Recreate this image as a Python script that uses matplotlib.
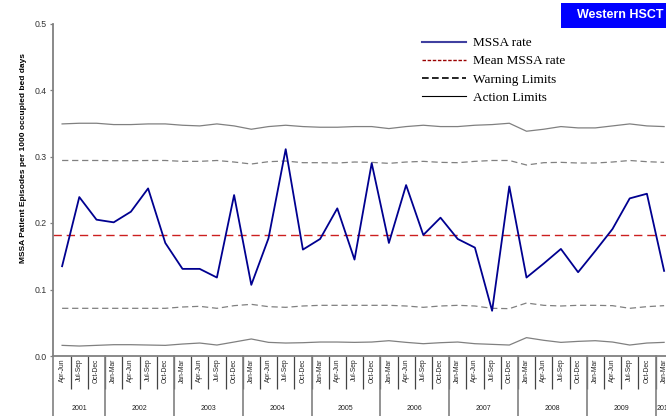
import matplotlib
matplotlib.use("Agg")
import matplotlib.pyplot as plt
from matplotlib.lines import Line2D
from matplotlib.patches import Rectangle
import matplotlib.transforms as mtransforms

years = ["2001", "2002", "2003", "2004", "2005", "2006", "2007", "2008", "2009", "2010"]
year_quarters = [
    ["Apr-Jun", "Jul-Sep", "Oct-Dec"],
    ["Jan-Mar", "Apr-Jun", "Jul-Sep", "Oct-Dec"],
    ["Jan-Mar", "Apr-Jun", "Jul-Sep", "Oct-Dec"],
    ["Jan-Mar", "Apr-Jun", "Jul-Sep", "Oct-Dec"],
    ["Jan-Mar", "Apr-Jun", "Jul-Sep", "Oct-Dec"],
    ["Jan-Mar", "Apr-Jun", "Jul-Sep", "Oct-Dec"],
    ["Jan-Mar", "Apr-Jun", "Jul-Sep", "Oct-Dec"],
    ["Jan-Mar", "Apr-Jun", "Jul-Sep", "Oct-Dec"],
    ["Jan-Mar", "Apr-Jun", "Jul-Sep", "Oct-Dec"],
    ["Jan-Mar"],
]

mssa_rate = [0.135, 0.239, 0.205, 0.201, 0.217, 0.252, 0.170, 0.131, 0.131, 0.118,
             0.242, 0.107, 0.177, 0.311, 0.160, 0.176, 0.222, 0.145, 0.290, 0.170,
             0.257, 0.182, 0.208, 0.176, 0.163, 0.068, 0.255, 0.118, 0.139, 0.161,
             0.126, 0.158, 0.191, 0.237, 0.244, 0.128]
mean_rate = 0.1825

upper_action = [0.349, 0.350, 0.350, 0.348, 0.348, 0.349, 0.349, 0.347, 0.346, 0.349,
                0.346, 0.341, 0.345, 0.347, 0.345, 0.344, 0.344, 0.345, 0.345, 0.342,
                0.345, 0.347, 0.345, 0.345, 0.347, 0.348, 0.350, 0.338, 0.341, 0.345,
                0.343, 0.343, 0.346, 0.349, 0.346, 0.345]
lower_action = [0.016, 0.015, 0.016, 0.017, 0.017, 0.0165, 0.016, 0.018, 0.0195, 0.0165,
                0.021, 0.0256, 0.0205, 0.0195, 0.020, 0.021, 0.021, 0.0205, 0.021, 0.023,
                0.0205, 0.0185, 0.020, 0.021, 0.0185, 0.0175, 0.0165, 0.0276, 0.0236, 0.0205,
                0.022, 0.023, 0.021, 0.0165, 0.0195, 0.0205]
upper_warning = [0.294, 0.294, 0.294, 0.2937, 0.2937, 0.294, 0.294, 0.2927, 0.2927, 0.294,
                 0.2917, 0.2887, 0.2922, 0.2932, 0.2907, 0.2907, 0.2902, 0.2917, 0.2912, 0.2897,
                 0.2917, 0.2927, 0.2912, 0.2907, 0.2927, 0.294, 0.294, 0.2872, 0.2907, 0.2912,
                 0.2902, 0.2902, 0.2917, 0.294, 0.2922, 0.2912]
lower_warning = [0.0717, 0.0717, 0.0717, 0.0717, 0.0717, 0.0717, 0.0717, 0.0737, 0.0747, 0.0717,
                 0.0757, 0.0777, 0.0742, 0.0732, 0.0752, 0.0762, 0.0762, 0.0762, 0.0762, 0.0762,
                 0.0752, 0.0732, 0.0752, 0.0762, 0.0752, 0.0717, 0.0712, 0.0797, 0.0762, 0.0752,
                 0.0762, 0.0762, 0.0757, 0.0717, 0.0742, 0.0757]

labels = [q for qs in year_quarters for q in qs]
n = len(labels)
x = list(range(n))

plt.rcParams['font.family'] = ['Liberation Sans', 'DejaVu Sans']

W, H = 666, 416
fig = plt.figure(figsize=(W / 100, H / 100), dpi=100)
ax = fig.add_axes([53.5 / W, 60 / H, 619.2 / W, 332.5 / H])

gray = '#808080'
ax.plot(x, upper_action, color=gray, lw=0.9)
ax.plot(x, lower_action, color=gray, lw=0.9)
ax.plot(x, upper_warning, color=gray, lw=0.9, dashes=(5, 3))
ax.plot(x, lower_warning, color=gray, lw=0.9, dashes=(5, 3))
ax.axhline(mean_rate, color='#cc1f1f', lw=1.0, dashes=(6, 3.5))
ax.plot(x, mssa_rate, color='#000090', lw=1.3)

ax.set_xlim(-0.5, n - 0.5)
ax.set_ylim(0, 0.5)
ax.set_yticks([0.0, 0.1, 0.2, 0.3, 0.4, 0.5])
ax.set_yticklabels([f"{v:.1f}" for v in [0.0, 0.1, 0.2, 0.3, 0.4, 0.5]], fontsize=6.3, color='#333333')
ax.tick_params(axis='y', length=2.5, width=0.9, color=gray, pad=2)

ax.set_xticks(x)
ax.set_xticklabels(labels, rotation=90, fontsize=4.8, color='#222222')
ax.tick_params(axis='x', which='major', length=0, pad=2)
ax.set_xticks([i + 0.5 for i in range(n - 1)], minor=True)
ax.tick_params(axis='x', which='minor', length=24, width=0.9, color='#444444')

for s in ['top', 'right']:
    ax.spines[s].set_visible(False)
for s in ['left', 'bottom']:
    ax.spines[s].set_color(gray)
    ax.spines[s].set_linewidth(1.3)

# year separators and labels
trans = mtransforms.blended_transform_factory(ax.transData, ax.transAxes)
start = 0
for yr, qs in zip(years, year_quarters):
    ax.plot([start - 0.5, start - 0.5], [0, -0.19], transform=trans, color=gray,
            lw=1.2, clip_on=False)
    center = start + (len(qs) - 1) / 2
    ax.text(center, -0.157, yr, transform=trans, ha='center', va='center',
            fontsize=5, color='#222222', clip_on=False)
    start += len(qs)

fig.text(24 / W, 1 - 158 / H, "MSSA Patient Episodes per 1000 occupied bed days",
         rotation=90, ha='center', va='center', fontsize=6, fontweight='bold')

# title box
fig.patches.append(Rectangle((561 / W, 1 - 28 / H), 0.2, 25 / H, transform=fig.transFigure,
                             facecolor='#0000ff', edgecolor='none', zorder=5))
fig.text(577 / W, 1 - 15.5 / H, "Western HSCT", color='white', fontweight='bold',
         fontsize=9, ha='left', va='center', zorder=6)

handles = [
    Line2D([], [], color='#4040a0', lw=1.5),
    Line2D([], [], color='#990000', lw=1.0, dashes=(2.5, 1.2)),
    Line2D([], [], color='black', lw=1.2, dashes=(4, 2)),
    Line2D([], [], color='black', lw=0.8),
]
leg_labels = ["MSSA rate", "Mean MSSA rate", "Warning Limits", "Action Limits"]
fig.legend(handles, leg_labels, loc='upper left', bbox_to_anchor=(422 / W, 1 - 37 / H),
           frameon=False, borderaxespad=0, borderpad=0, handlelength=3.3,
           handletextpad=0.55, labelspacing=0.45,
           prop={'family': 'Liberation Serif', 'size': 9.5})

fig.savefig('out.png', dpi=100)
